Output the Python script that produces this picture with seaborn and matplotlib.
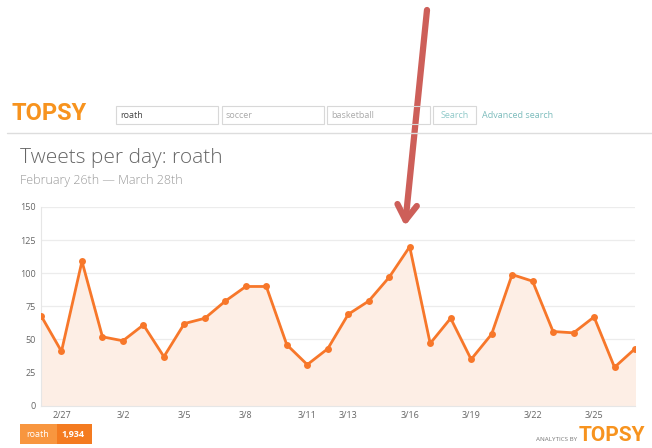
import numpy as np
import pandas as pd
import matplotlib.pyplot as plt
import seaborn as sns
from matplotlib.patches import Rectangle

# tweets per day, Feb 26 -> Mar 27 (total 1,934)
tweets = [68, 41, 109, 52, 49, 61, 37, 62, 66, 79, 90, 90, 46, 31, 43,
          69, 79, 97, 120, 47, 66, 35, 54, 99, 94, 56, 55, 67, 29, 43]
tick_days = [1, 4, 7, 10, 13, 15, 18, 21, 24, 27]
tick_labels = ['2/27', '3/2', '3/5', '3/8', '3/11', '3/13', '3/16', '3/19', '3/22', '3/25']
y_ticks = [0, 25, 50, 75, 100, 125, 150]

df = pd.DataFrame({'day': np.arange(len(tweets)), 'tweets': tweets})

sns.set_style('white')
plt.rcParams['font.family'] = ['Open Sans', 'DejaVu Sans']

W, H = 652, 448
fig = plt.figure(figsize=(W / 100, H / 100), dpi=100)


def fx(x):
    return x / W


def fy(y):
    return 1 - y / H


ORANGE = '#f7772a'
ax = fig.add_axes([fx(41), fy(405.7), fx(635) - fx(41), fy(207) - fy(405.7)])
ax.fill_between(df['day'], df['tweets'], color='#fdeee5', zorder=1)
sns.lineplot(data=df, x='day', y='tweets', ax=ax, color=ORANGE, lw=2,
             marker='o', markersize=5, markeredgewidth=0, zorder=3)

ax.set_xlim(0, len(tweets) - 1)
ax.set_ylim(0, 150)
ax.set_yticks(y_ticks)
ax.set_xticks(tick_days)
ax.set_xticklabels(tick_labels)
ax.tick_params(axis='both', labelsize=6.5, colors='#666666', length=0, pad=4)
ax.yaxis.grid(True, color='#ececec', lw=0.9)
ax.set_axisbelow(True)
ax.set_xlabel('')
ax.set_ylabel('')
for s in ['top', 'right']:
    ax.spines[s].set_visible(False)
ax.spines['left'].set_color('#e6e6e6')
ax.spines['bottom'].set_color('#e6e6e6')

# header
fig.text(fx(11), fy(114), 'TOPSY', color='#f7931e', fontsize=17, fontweight='bold',
         va='center', ha='left', family=['Roboto', 'DejaVu Sans'])
boxes = [(116, 218, 'roath', '#444444'), (222, 324, 'soccer', '#aaaaaa'),
         (327, 430, 'basketball', '#aaaaaa')]
for x0, x1, txt, c in boxes:
    fig.add_artist(Rectangle((fx(x0), fy(124)), fx(x1) - fx(x0), fy(106) - fy(124),
                             transform=fig.transFigure, fill=False, ec='#d8d8d8', lw=0.8))
    fig.text(fx(x0 + 4), fy(115), txt, color=c, fontsize=6.5, va='center')
fig.add_artist(Rectangle((fx(433), fy(124)), fx(476) - fx(433), fy(106) - fy(124),
                         transform=fig.transFigure, fill=False, ec='#d8d8d8', lw=0.8))
fig.text(fx(454.5), fy(115), 'Search', color='#8fc9c9', fontsize=6.5, va='center', ha='center')
fig.text(fx(482), fy(115), 'Advanced search', color='#7cbcbc', fontsize=6.5, va='center')
fig.add_artist(plt.Line2D([fx(7), 1], [fy(133), fy(133)], transform=fig.transFigure,
                          color='#dddddd', lw=1))

fig.text(fx(20), fy(158), 'Tweets per day: roath', color='#666666', fontsize=15,
         fontweight='light', va='center')
fig.text(fx(20), fy(180), 'February 26th \u2014 March 28th', color='#999999', fontsize=9,
         fontweight='light', va='center')

# footer
fig.add_artist(Rectangle((fx(20), fy(444)), fx(57) - fx(20), fy(424) - fy(444),
                         transform=fig.transFigure, color='#f8963f', lw=0))
fig.add_artist(Rectangle((fx(57), fy(444)), fx(92) - fx(57), fy(424) - fy(444),
                         transform=fig.transFigure, color='#f47b20', lw=0))
fig.text(fx(38), fy(434), 'roath', color='white', fontsize=6.5, va='center', ha='center')
fig.text(fx(73), fy(434), f'{sum(tweets):,}', color='white', fontsize=6.5, va='center',
         ha='center', fontweight='bold')
fig.text(fx(577), fy(439), 'ANALYTICS BY', color='#777777', fontsize=4.5, va='center', ha='right')
fig.text(fx(579), fy(435), 'TOPSY', color='#f7931e', fontsize=15, fontweight='bold',
         va='center', ha='left', family=['Roboto', 'DejaVu Sans'])

# red arrow
ax.annotate('', xy=(fx(405), fy(226)), xycoords='figure fraction',
            xytext=(fx(427), fy(10)), textcoords='figure fraction',
            arrowprops=dict(arrowstyle='->, head_width=0.7, head_length=1.1',
                            color='#cd5f59', lw=4.5, shrinkA=0, shrinkB=0),
            annotation_clip=False, zorder=10)

fig.savefig('out.png', dpi=100)
